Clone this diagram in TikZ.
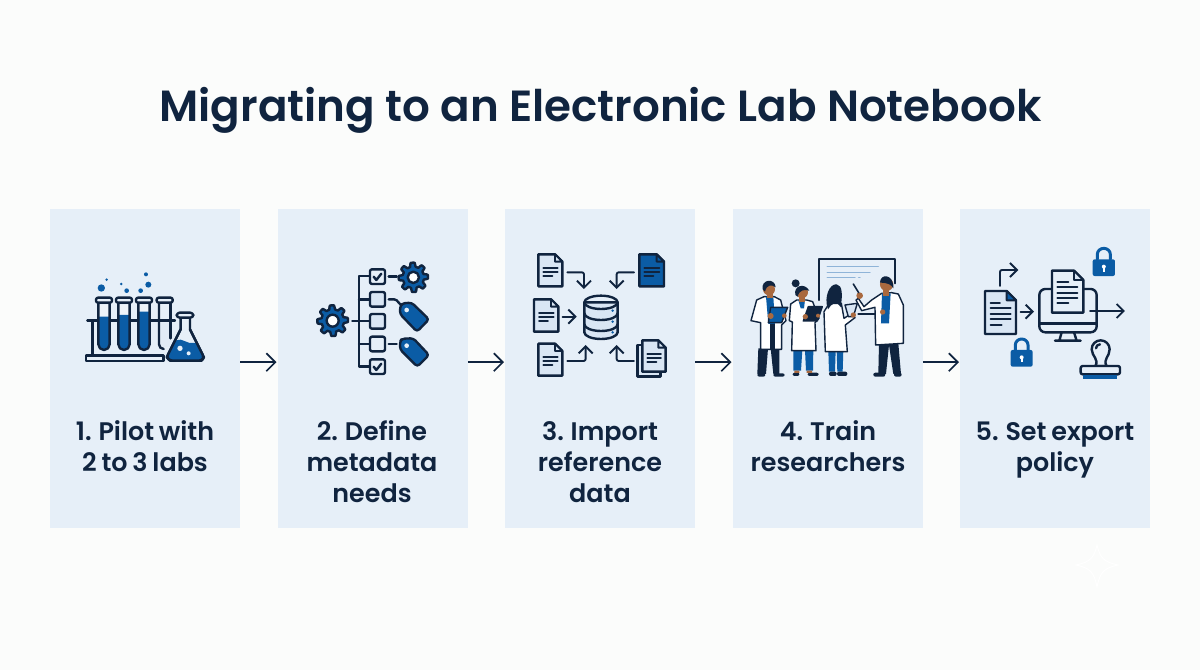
\documentclass[tikz,border=0pt]{standalone}
\usepackage{fontspec}
\setmainfont{Poppins}
\newfontfamily\titlefont{Poppins SemiBold}
\usetikzlibrary{arrows.meta}
\definecolor{navy}{HTML}{10243F}
\definecolor{accent}{HTML}{0B5CA5}
\definecolor{cardbg}{HTML}{E6EFF8}
\definecolor{soft}{HTML}{D9E6F4}
\definecolor{paper}{HTML}{FBFCFB}
\definecolor{skin}{HTML}{A9693F}
\definecolor{paleline}{HTML}{8FB4D8}
\tikzset{
  cardbox/.style={fill=cardbg,draw=none,minimum width=190,minimum height=319,inner sep=0,anchor=north west},
  steplabel/.style={text=navy,font=\titlefont\fontsize{25.4}{31}\selectfont,align=center,anchor=center,
    execute at begin node={\setlength{\spaceskip}{0.19em}}},
  flow/.style={draw=navy,line width=1.7pt,-{Straight Barb[length=9pt,width=18pt,line width=1.7pt]}},
  icon/.style={x=0.3333pt,y=-0.3333pt,line width=2.4pt,line join=round,line cap=round,draw=navy},
  thin/.style={line width=1.9pt},
  iarrow/.style={draw=navy,line width=1.9pt,rounded corners=2pt,-{Straight Barb[length=7pt,width=14pt,line width=1.9pt]}},
}
% test tube with its liquid level
\newcommand\tube[2]{%
  \fill[soft!45] (#1-17,165) -- (#1-17,283) arc[start angle=180,end angle=0,radius=17] -- (#1+17,165) -- cycle;
  \fill[accent] (#1-17,#2) -- (#1-17,283) arc[start angle=180,end angle=0,radius=17] -- (#1+17,#2) -- cycle;
  \draw (#1-17,158) -- (#1-17,283) arc[start angle=180,end angle=0,radius=17] -- (#1+17,158);
  \draw[fill=cardbg,rounded corners=2pt] (#1-24,143) rectangle (#1+24,158);
}
% toothed gear: centre x, centre y, root radius, tip radius, hole radius
\newcommand\gearwheel[5]{%
  \draw[fill=accent,shift={(#1,#2)}] plot[samples=145,domain=0:360] (\x:{#3+(#4-#3)*(0.5+0.5*max(-1,min(1,2.2*cos(8*\x+22.5))))}) -- cycle;
  \draw[fill=white] (#1,#2) circle[radius=#5];
}
% blank sheet of paper: left, top, right, bottom, fold, sheet fill, fold fill
\newcommand\blanksheet[7]{%
  \draw[fill=#6] (#1,#2) -- (#3-#5,#2) -- (#3,#2+#5) -- (#3,#4) -- (#1,#4) -- cycle;
  \draw[thin,fill=#7] (#3-#5,#2) -- (#3-#5,#2+#5) -- (#3,#2+#5) -- cycle;
}
% sheet with three text lines
\newcommand\sheet[7]{%
  \blanksheet{#1}{#2}{#3}{#4}{#5}{#6}{#7}
  \draw[thin] (#1+15,#2+40) -- (#3-14,#2+40) (#1+15,#2+52) -- (#3-14,#2+52) (#1+15,#2+65) -- (#1+42,#2+65);
}
% padlock: left, top of body, right, bottom, shackle top
\newcommand\padlock[5]{%
  \draw[draw=accent,line width=3pt] ({#1+14},#2) -- ({#1+14},{#5+18}) arc[start angle=180,end angle=360,x radius={(#3-#1)/2-14},y radius=18] -- ({#3-14},#2);
  \fill[accent,rounded corners=2pt] (#1,#2) rectangle (#3,#4);
  \fill[white] ({(#1+#3)/2},{#2+22}) circle[radius=6];
  \fill[white] ({(#1+#3)/2-2.5},{#2+22}) rectangle ({(#1+#3)/2+2.5},{#2+37});
}
\begin{document}
\begin{tikzpicture}[x=1pt,y=-1pt]
\useasboundingbox (0,0) rectangle (1200,670);
\fill[paper] (0,0) rectangle (1200,670);

\node (title) at (600.5,110) [text=navy,font=\titlefont\fontsize{43.6}{52}\selectfont,anchor=center] {Migrating to an Electronic Lab Notebook};

% step cards
\node[cardbox] (c1) at (50,209) {};
\node[cardbox] (c2) at (277.5,209) {};
\node[cardbox] (c3) at (505,209) {};
\node[cardbox] (c4) at (732.5,209) {};
\node[cardbox] (c5) at (960,209) {};

\node[steplabel] (t1) at (145,450) {1. Pilot with\strut\\2 to 3 labs\strut};
\node[steplabel] (t2) at (372,465) {2. Define\strut\\metadata\strut\\needs\strut};
\node[steplabel] (t3) at (600,465) {3. Import\strut\\reference\strut\\data\strut};
\node[steplabel] (t4) at (828,450) {4. Train\strut\\researchers\strut};
\node[steplabel] (t5) at (1055,450) {5. Set export\strut\\policy\strut};

% connectors between the cards, just above their mid-height
\foreach \a/\b in {c1/c2,c2/c3,c3/c4,c4/c5}
  \draw[flow] ([yshift=6.5pt]\a.east) -- ([yshift=6.5pt,xshift=-1pt]\b.west);

% test tubes and flask
\begin{scope}[icon,shift={(60pt,-250pt)}]
  \draw (82,212) -- (345,212);
  \draw (97,212) -- (97,318);
  \draw[fill=cardbg] (78,316) rectangle (310,333);
  \tube{132}{200}\tube{192}{195}\tube{252}{185}
  \fill[soft!80] (297,220) rectangle (331,290);
  \draw (297,158) -- (297,283) arc[start angle=180,end angle=90,radius=14];
  \draw (331,158) -- (331,265);
  \draw[fill=cardbg,rounded corners=2pt] (290,143) rectangle (338,158);
  \draw[fill=cardbg] (362,200) -- (362,238) -- (320,322) -- (330,332) -- (425,332) -- (432,322) -- (390,238) -- (390,200) -- cycle;
  \fill[accent,rounded corners=3pt] (343,275) .. controls (365,262) and (385,285) .. (409,275) -- (432,322) -- (425,332) -- (330,332) -- (320,322) -- cycle;
  \draw[rounded corners=3pt] (362,238) -- (320,322) -- (330,332) -- (425,332) -- (432,322) -- (390,238);
  \draw[fill=cardbg,rounded corners=3pt] (350,188) rectangle (400,203);
  \fill[cardbg] (360,295) circle[radius=8] (386,310) circle[radius=6];
  \fill[accent] (124,114) circle[radius=11] (140,89) circle[radius=4] (184,102) circle[radius=4]
    (200,122) circle[radius=7] (242,122) circle[radius=7] (265,104) circle[radius=9] (258,73) circle[radius=6];
\end{scope}

% checklist with gears and tags
\begin{scope}[icon,shift={(290pt,-250pt)}]
  \draw (237,78) -- (207,78) -- (207,350) -- (237,350);
  \draw (207,148) -- (237,148) (207,282) -- (237,282);
  \draw (187,213) -- (237,213);
  \gearwheel{128}{212}{34}{46}{18}
  \gearwheel{370}{82}{32}{44}{17}
  \foreach \yy/\ff in {80/cardbg,148/soft,214/soft,282/cardbg,350/cardbg}
    \draw[fill=\ff,rounded corners=2pt] (240,\yy-22) rectangle (285,\yy+22);
  \draw (251,80) -- (259,90) -- (274,71);
  \draw (251,350) -- (259,360) -- (274,341);
  \draw (296,80) -- (320,80);
  \draw (296,148) -- (312,148) .. controls (325,148) and (325,165) .. (338,165);
  \draw (296,282) -- (320,282);
  \draw[fill=accent,rounded corners=3pt] (330,172) -- (336,160) -- (365,158) -- (417,208) -- (381,245) -- (330,192) -- cycle;
  \fill[cardbg] (350,180) circle[radius=7];
  \draw[fill=accent,rounded corners=3pt] (330,275) -- (336,266) -- (370,265) -- (417,315) -- (382,350) -- (330,298) -- cycle;
  \fill[cardbg] (350,287) circle[radius=7];
\end{scope}

% documents feeding a database
\begin{scope}[icon,shift={(515pt,-245pt)}]
  \sheet{70}{28}{142}{124}{22}{soft}{soft}
  \sheet{373}{28}{447}{124}{22}{accent}{accent}
  \sheet{57}{163}{130}{260}{22}{soft}{soft}
  \sheet{70}{296}{142}{392}{22}{soft}{soft}
  \draw[fill=soft] (367,300) rectangle (437,395);
  \sheet{382}{286}{452}{380}{22}{soft}{soft}
  \draw[iarrow] (157,82) -- (207,82) -- (207,132);
  \draw[iarrow] (357,82) -- (305,82) -- (305,132);
  \draw[iarrow] (143,215) -- (185,215);
  \draw[iarrow] (157,348) -- (212,348) -- (212,300);
  \draw[iarrow] (357,348) -- (305,348) -- (305,300);
  \draw[fill=soft] (208,172) -- (208,262) arc[start angle=180,end angle=0,x radius=50,y radius=20] -- (308,172) -- cycle;
  \draw (208,172) arc[start angle=180,end angle=0,x radius=50,y radius=20];
  \draw (208,172) arc[start angle=180,end angle=360,x radius=50,y radius=20];
  \draw (208,205) arc[start angle=180,end angle=0,x radius=50,y radius=20];
  \draw (208,238) arc[start angle=180,end angle=0,x radius=50,y radius=20];
  \fill[accent] (293,197) circle[radius=4] (293,230) circle[radius=4] (293,262) circle[radius=4];
\end{scope}

% researchers at a whiteboard
\begin{scope}[icon,shift={(740pt,-250pt)},line width=1.4pt]
  \draw[line width=2.2pt] (238,150) -- (238,27) -- (465,27) -- (465,100);
  \draw[line width=2.2pt] (355,193) -- (405,193);
  \draw[draw=paleline,line width=1.5pt] (262,50) -- (415,50) (262,67) -- (390,67) (262,83) -- (345,83) (356,83) -- (360,83);
  % first researcher
  \fill[navy] (55,295) -- (52,372) -- (78,372) -- (84,295) -- cycle (92,295) -- (100,372) -- (118,372) -- (118,295) -- cycle;
  \fill[navy,rounded corners=2pt] (52,370) rectangle (76,380) (100,370) rectangle (134,380);
  \draw[fill=white] (72,140) -- (50,150) -- (33,212) -- (62,218) -- (62,298) -- (125,298) -- (125,225) -- (138,212) -- (122,150) -- (103,140) -- cycle;
  \fill[accent] (78,140) -- (100,140) -- (105,222) -- (85,222) -- cycle;
  \fill[navy] (90,222) rectangle (106,296);
  \fill[skin] (80,128) rectangle (98,145);
  \fill[skin] (87,118) circle[radius=18];
  \fill[navy] (68,118) .. controls (62,88) and (105,82) .. (107,112) .. controls (95,103) and (80,103) .. (75,125) -- cycle;
  \draw[fill=accent] (92,172) -- (143,172) -- (125,218) -- (85,218) -- cycle;
  \fill[skin] (92,198) circle[radius=9] (133,197) circle[radius=7];
  % second researcher
  \fill[accent] (160,300) -- (160,362) -- (183,362) -- (187,300) -- cycle (195,300) -- (198,362) -- (219,362) -- (220,300) -- cycle;
  \fill[navy,rounded corners=2pt] (158,368) rectangle (178,378) (203,368) rectangle (236,378);
  \fill[skin] (163,362) rectangle (178,369) (200,362) rectangle (216,369);
  \draw[fill=white] (170,150) -- (152,162) -- (148,212) -- (157,216) -- (155,302) -- (228,302) -- (225,218) -- (237,205) -- (218,155) -- (200,150) -- cycle;
  \fill[accent] (175,150) -- (195,150) -- (192,175) -- (182,175) -- cycle;
  \fill[skin] (178,135) rectangle (194,155);
  \fill[skin] (186,127) circle[radius=18];
  \fill[navy] (167,100) circle[radius=12];
  \fill[navy] (166,135) .. controls (160,105) and (195,98) .. (208,122) .. controls (195,118) and (178,118) .. (173,140) -- cycle;
  \draw[fill=navy] (205,170) -- (247,170) -- (232,213) -- (190,213) -- cycle;
  \fill[skin] (196,200) circle[radius=8] (234,197) circle[radius=6];
  % third researcher, seen from behind
  \fill[accent] (265,302) -- (267,365) -- (285,365) -- (287,302) -- cycle (290,302) -- (292,365) -- (308,365) -- (310,302) -- cycle;
  \fill[navy,rounded corners=2pt] (267,365) rectangle (290,378) (291,365) rectangle (322,378);
  \draw[fill=white] (268,160) -- (252,185) -- (256,305) -- (322,305) -- (316,225) -- (345,203) -- (335,190) -- (312,205) -- (304,160) -- cycle;
  \fill[navy] (264,178) .. controls (250,140) and (270,100) .. (290,103) .. controls (308,106) and (308,135) .. (302,172) .. controls (290,150) and (275,160) .. (264,178) -- cycle;
  \draw[fill=soft] (315,165) -- (352,160) -- (340,200) -- (325,200) -- cycle;
  \fill[skin] (340,195) circle[radius=8];
  % presenter
  \fill[navy] (417,280) -- (415,372) -- (438,372) -- (447,285) -- (460,372) -- (483,372) -- (475,280) -- cycle;
  \fill[navy] (423,220) rectangle (447,285);
  \fill[navy,rounded corners=2pt] (400,368) rectangle (436,380) (462,368) rectangle (485,380);
  \draw[fill=white] (425,130) -- (395,150) -- (372,170) -- (355,145) -- (348,150) -- (365,182) -- (405,172) -- (407,285) -- (490,280) -- (490,165) -- (475,132) -- (455,128) -- cycle;
  \fill[accent] (426,130) -- (452,130) -- (447,220) -- (423,220) -- cycle;
  \fill[skin] (430,115) rectangle (448,138);
  \fill[skin] (440,103) circle[radius=20];
  \fill[navy] (420,98) .. controls (420,70) and (462,70) .. (460,115) .. controls (455,105) and (445,98) .. (420,98) -- cycle;
  \fill[skin] (359,137) circle[radius=10] (428,186) circle[radius=8];
  \draw[line width=1.6pt] (340,102) -- (356,128);
\end{scope}

% export: documents, screen, locks and stamp
\begin{scope}[icon,shift={(970pt,-240pt)}]
  \draw[iarrow] (90,138) -- (90,90) -- (145,90);
  \blanksheet{45}{153}{138}{282}{28}{soft}{accent}
  \draw[thin] (62,188) -- (90,188) (62,205) -- (122,205) (62,222) -- (122,222) (62,238) -- (122,238) (62,254) -- (95,254);
  \draw[iarrow] (152,215) -- (192,215);
  \draw[fill=cardbg,rounded corners=6pt] (208,147) rectangle (380,277);
  \draw (208,250) -- (380,250);
  \draw (275,277) -- (268,302) (312,277) -- (320,302) (255,302) -- (332,302);
  \blanksheet{246}{92}{340}{218}{28}{cardbg}{soft}
  \draw[thin] (262,125) -- (295,125) (262,142) -- (322,142) (262,158) -- (322,158) (262,175) -- (322,175) (262,190) -- (295,190);
  \draw[iarrow] (360,213) -- (465,213);
  \padlock{368}{58}{435}{108}{25}
  \padlock{122}{330}{188}{380}{297}
  \draw[fill=cardbg] (376,378) .. controls (388,358) and (366,350) .. (365,328) arc[start angle=180,end angle=360,radius=27] .. controls (419,350) and (398,358) .. (410,378) -- cycle;
  \draw (378,325) arc[start angle=180,end angle=270,radius=12];
  \draw[fill=cardbg,rounded corners=2pt] (332,378) rectangle (450,403);
  \fill[accent] (340,404) rectangle (442,417);
\end{scope}

% faint sparkle in the lower right
\draw[white,line width=1pt] (1097,545) .. controls (1100,558) and (1104,562) .. (1118,565)
  .. controls (1104,568) and (1100,572) .. (1097,587) .. controls (1094,572) and (1090,568) .. (1076,565)
  .. controls (1090,562) and (1094,558) .. (1097,545) -- cycle;
\end{tikzpicture}
\end{document}
